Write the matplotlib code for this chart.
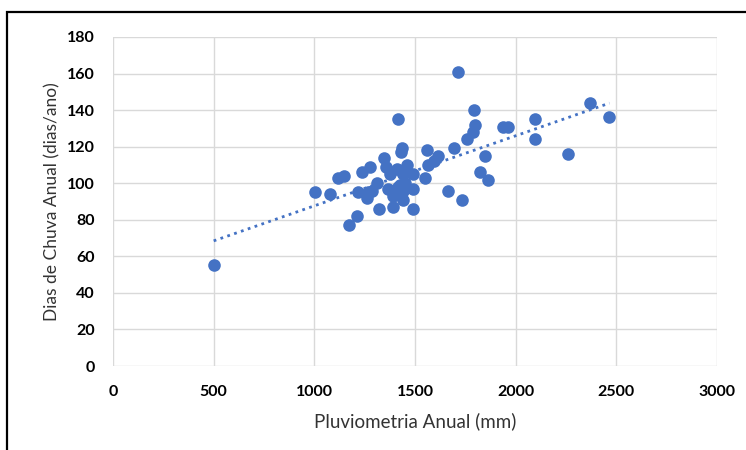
import numpy as np
import matplotlib
matplotlib.use("Agg")
import matplotlib.pyplot as plt
from matplotlib.patches import Rectangle

pluviometria = [500, 1003, 1078, 1119, 1146, 1174, 1210, 1216, 1235, 1260, 1268, 1277,
                1285, 1310, 1323, 1346, 1355, 1368, 1376, 1389, 1393, 1409, 1417, 1417,
                1426, 1429, 1437, 1442, 1442, 1442, 1451, 1459, 1489, 1492, 1492, 1550,
                1558, 1566, 1595, 1616, 1666, 1696, 1715, 1735, 1757, 1790, 1793, 1798,
                1823, 1848, 1864, 1939, 1964, 2096, 2096, 2262, 2370, 2466]
dias_chuva = [55, 95, 94, 103, 104, 77, 82, 95, 106, 92, 95, 109,
              96, 100, 86, 114, 109, 97, 105, 87, 93, 108, 98, 135,
              99, 117, 119, 105, 96, 91, 100, 110, 86, 105, 97, 103,
              118, 110, 112, 115, 96, 119, 161, 91, 124, 128, 140, 132,
              106, 115, 102, 131, 131, 135, 124, 116, 144, 136]

xticks = [0, 500, 1000, 1500, 2000, 2500, 3000]
yticks = list(range(0, 181, 20))

blue = "#4472C4"
fig = plt.figure(figsize=(7.46, 4.5), dpi=100)
ax = fig.add_axes([113/746, 1-366/450, (717-113)/746, (366-37)/450])

x = np.array(pluviometria, dtype=float)
y = np.array(dias_chuva, dtype=float)
ax.scatter(x, y, s=82, color=blue, zorder=3, linewidths=0)
coef = np.polyfit(x, y, 1)
xs = np.array([x.min(), x.max()])
ax.plot(xs, np.polyval(coef, xs), linestyle=(0, (1, 1.6)), color=blue, lw=2, zorder=2)

ax.set_xlim(0, 3000)
ax.set_ylim(0, 180)
ax.set_xticks(xticks)
ax.set_yticks(yticks)
ax.grid(True, color="#D9D9D9", lw=1)
ax.set_axisbelow(True)
for s in ax.spines.values():
    s.set_visible(False)
ax.tick_params(axis="y", length=0, pad=13)
ax.tick_params(axis="x", length=0, pad=14)
for lab in ax.get_xticklabels() + ax.get_yticklabels():
    lab.set_fontweight("bold")
    lab.set_fontsize(11.5)
    lab.set_fontfamily("Lato")
ax.set_xlabel("Pluviometria Anual (mm)", fontsize=13.5, family="Lato", labelpad=9, color="#333333")
ax.set_ylabel("Dias de Chuva Anual (dias/ano)", fontsize=12.5, family="Lato", labelpad=5, color="#333333")

fig.patches.append(Rectangle((7/746, -0.1), 1.2, 1.1 - 12/450, transform=fig.transFigure,
                             fill=False, edgecolor="black", lw=1.6))
fig.savefig("out.png", dpi=100)
